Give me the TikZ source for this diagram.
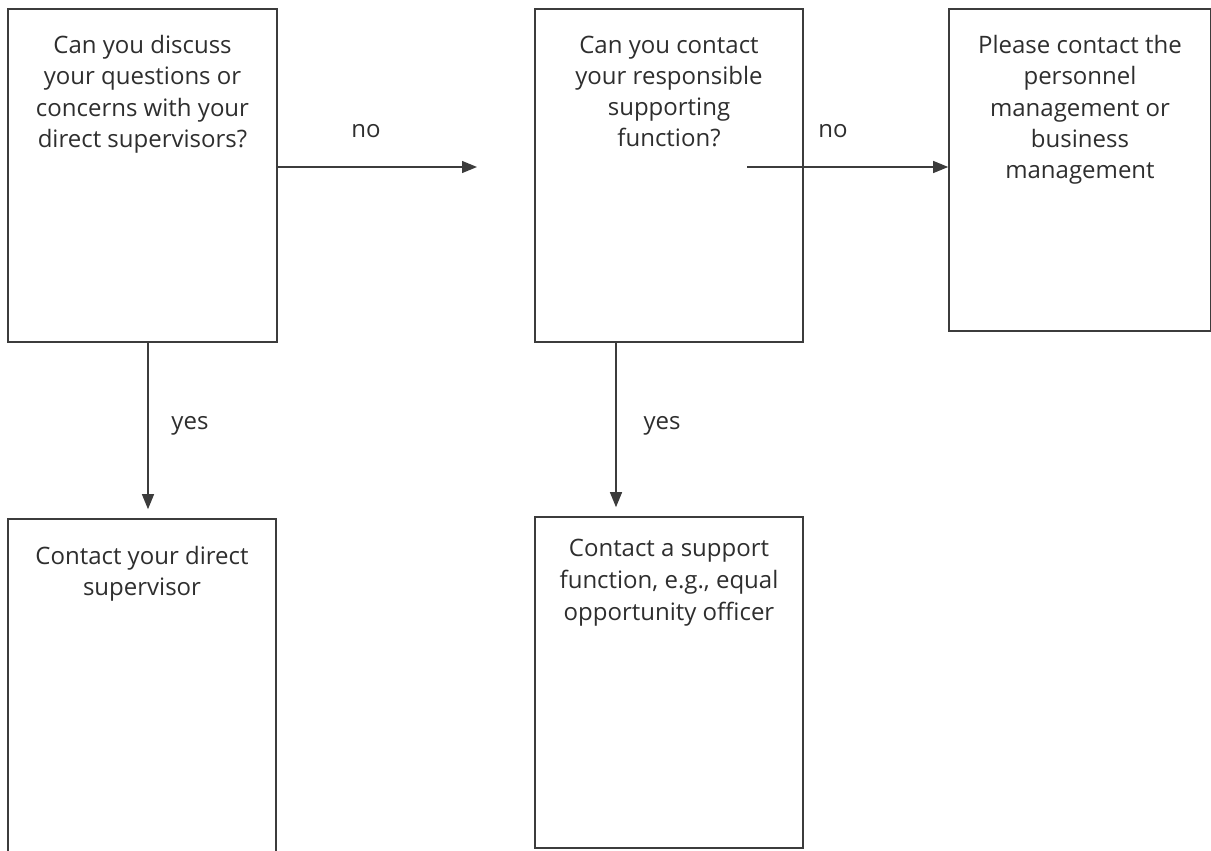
\documentclass[tikz,border=0pt]{standalone}
\usepackage{fontspec}
\setmainfont{Open Sans}
\usetikzlibrary{arrows.meta}
\definecolor{linec}{HTML}{3C3C3C}
\definecolor{textc}{HTML}{2E2E2E}
\begin{document}
\begin{tikzpicture}[x={(1pt,0)}, y={(0,-1pt)},
  box/.style={draw=linec, line width=1.6pt, rectangle, inner sep=0pt},
  btext/.style={anchor=north, align=center, text=textc, font=\fontsize{24}{31.3}\selectfont, inner sep=0pt},
  lbl/.style={text=textc, font=\fontsize{24}{31}\selectfont, inner sep=0pt},
  arr/.style={draw=linec, line width=1.3pt, -{Triangle[length=15pt,width=12pt]}}]
\useasboundingbox (0,0) rectangle (1211,851);
% boxes
\node[box, minimum width=269pt, minimum height=333pt] (b1) at (142.5,175.5) {};
\node[box, minimum width=268pt, minimum height=333pt] (b2) at (669,175.5) {};
\node[box, minimum width=262pt, minimum height=322pt] (b3) at (1080,170) {};
\node[box, minimum width=268pt, minimum height=351pt] (b4) at (142,694.5) {};
\node[box, minimum width=268pt, minimum height=331pt] (b5) at (669,682.5) {};
% texts
\node[btext] (t1) at (142.5,35) {Can you discuss\\your questions or\\concerns with your\\direct supervisors?};
\node[btext] (t2) at (669,35.5) {Can you contact\\your responsible\\supporting\\function?};
\node[btext] (t3) at (1080,35) {Please contact the\\personnel\\management or\\business\\management};
\node[btext] (t4) at (142,546) {Contact your direct\\supervisor};
\node[btext, font=\fontsize{24}{32}\selectfont] (t5) at (669,539) {Contact a support\\function, e.g., equal\\opportunity officer};
% connectors
\coordinate (e1) at (477,167);
\coordinate (s2) at (747,167);
\draw[arr] (b1.east |- e1) -- (e1);
\draw[arr] (s2) -- (b3.west |- s2);
\draw[arr, shorten >=9pt] (b1.south -| 148,0) -- (b4.north -| 148,0);
\draw[arr, shorten >=9pt] (b2.south -| 616,0) -- (b5.north -| 616,0);
% labels
\node[lbl] (n1) at (366,131) {no};
\node[lbl] (n2) at (833,131) {no};
\node[lbl] (y1) at (190,426) {yes};
\node[lbl] (y2) at (662,426) {yes};
\end{tikzpicture}
\end{document}
